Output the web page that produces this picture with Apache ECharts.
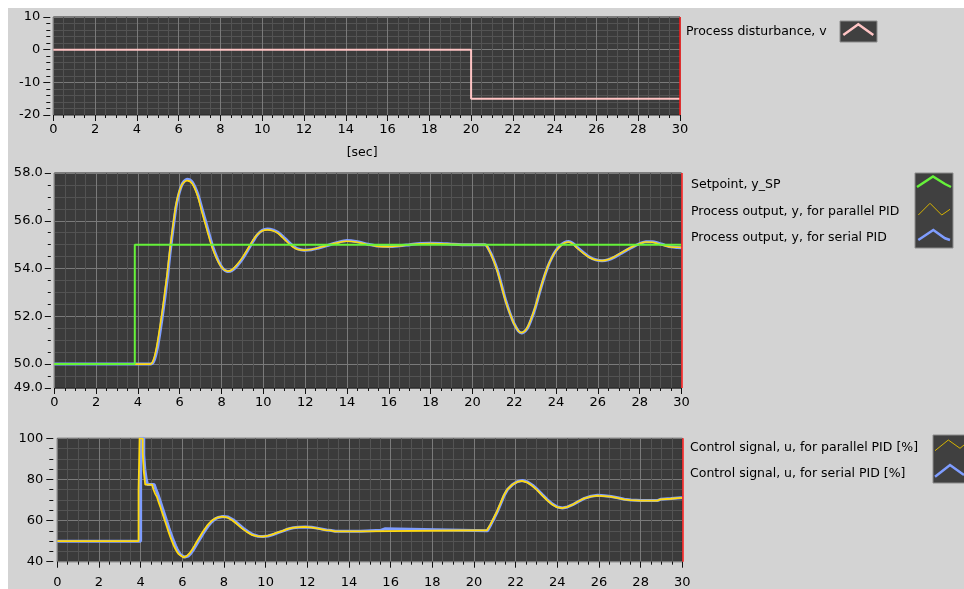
<!DOCTYPE html>
<html>
<head>
<meta charset="utf-8">
<title>PID control: parallel vs serial</title>
<script src="https://cdn.jsdelivr.net/npm/echarts@6/dist/echarts.min.js"></script>
<style>
  html, body { margin: 0; padding: 0; background: #ffffff; }
  #chart { position: absolute; left: 8px; top: 8px; width: 956px; height: 581px; }
</style>
</head>
<body>
<div id="chart"></div>
<script>
// ---- Process disturbance v ----
const distTime = [0, 20, 20, 30];
const distValues = [0, 0, -15, -15];

// ---- Setpoint and process outputs ----
const spTime = [0, 3.85, 3.85, 30];
const spValues = [50, 50, 55, 55];

const yTime = [0, 4.6, 4.75, 4.9, 5.05, 5.2, 5.4, 5.55, 5.7, 5.85, 6.1, 6.35, 6.6, 6.85, 7.05, 7.3, 7.55, 7.8, 8.05, 8.3,
  8.5, 8.75, 9.0, 9.25, 9.5, 9.7, 9.95, 10.2, 10.45, 10.7, 10.9, 11.15, 11.4, 11.65, 11.95, 12.3, 12.6, 13.0, 13.5, 14.0,
  14.5, 15.0, 15.5, 16.0, 16.5, 17.0, 17.5, 18.0, 18.5, 19.0, 19.5, 20.0, 20.6, 20.8, 21.0, 21.2, 21.4, 21.6, 21.8, 22.0,
  22.2, 22.35, 22.6, 22.8, 23.0, 23.2, 23.4, 23.6, 23.8, 24.0, 24.2, 24.4, 24.6, 24.8, 25.0, 25.3, 25.6, 25.9, 26.2, 26.5,
  26.8, 27.1, 27.4, 27.7, 28.0, 28.3, 28.6, 28.9, 29.2, 29.5, 29.8, 30.0];
const yParallel = [50.0, 50.0, 50.2, 50.75, 51.55, 52.45, 53.8, 54.95, 55.95, 56.8, 57.5, 57.68, 57.55, 57.05, 56.4, 55.62, 54.88, 54.35, 54.0, 53.89,
  53.95, 54.18, 54.47, 54.82, 55.18, 55.42, 55.58, 55.62, 55.58, 55.47, 55.31, 55.1, 54.91, 54.8, 54.77, 54.8, 54.86, 54.96, 55.07, 55.14,
  55.1, 55.0, 54.93, 54.92, 54.95, 55.0, 55.04, 55.05, 55.04, 55.02, 55.0, 55.0, 55.0, 54.75, 54.36, 53.87, 53.23, 52.6, 52.1, 51.67,
  51.39, 51.32, 51.49, 51.88, 52.38, 53.0, 53.58, 54.08, 54.46, 54.75, 54.94, 55.07, 55.11, 55.03, 54.86, 54.65, 54.46, 54.36, 54.33, 54.38,
  54.5, 54.65, 54.8, 54.93, 55.04, 55.11, 55.1, 55.03, 54.96, 54.9, 54.89, 54.88];
const ySerial = [50.0, 50.0, 50.1, 50.55, 51.3, 52.2, 53.55, 54.75, 55.8, 56.7, 57.5, 57.74, 57.62, 57.15, 56.55, 55.78, 55.0, 54.42, 54.02, 53.88,
  53.92, 54.12, 54.4, 54.76, 55.13, 55.4, 55.6, 55.66, 55.62, 55.52, 55.37, 55.16, 54.96, 54.82, 54.77, 54.79, 54.85, 54.95, 55.08, 55.17,
  55.12, 55.02, 54.94, 54.92, 54.95, 55.0, 55.05, 55.06, 55.05, 55.02, 55.0, 55.0, 55.0, 54.78, 54.4, 53.92, 53.28, 52.64, 52.12, 51.68,
  51.38, 51.3, 51.46, 51.84, 52.34, 52.96, 53.55, 54.06, 54.46, 54.76, 54.96, 55.09, 55.13, 55.06, 54.9, 54.68, 54.48, 54.37, 54.33, 54.37,
  54.48, 54.63, 54.78, 54.92, 55.04, 55.12, 55.12, 55.06, 54.98, 54.91, 54.88, 54.87];

// ---- Control signal u [%] ----
const uParTime = [0, 3.9, 3.9, 3.95, 3.95, 4.1, 4.1, 4.15, 4.15, 4.22, 4.22, 4.55, 4.62, 4.7, 4.78, 4.86, 4.94, 5.02, 5.1, 5.18,
  5.26, 5.34, 5.42, 5.5, 5.58, 5.66, 5.74, 5.82, 5.9, 6.06, 6.22, 6.34, 6.46, 6.58, 6.7, 6.82, 6.94, 7.06, 7.18, 7.3,
  7.42, 7.54, 7.66, 7.9, 8.14, 8.38, 8.62, 8.86, 9.1, 9.34, 9.58, 9.82, 10.06, 10.3, 10.54, 10.79, 11.03, 11.27, 11.51, 11.83,
  12.15, 12.47, 12.87, 13.1, 13.3, 14.5, 14.55, 20.62, 20.78, 20.94, 21.1, 21.26, 21.42, 21.58, 21.82, 22.06, 22.3, 22.54, 22.78, 23.02,
  23.26, 23.5, 23.74, 23.98, 24.22, 24.46, 24.71, 24.95, 25.27, 25.59, 25.91, 26.23, 26.55, 26.87, 27.19, 27.51, 28.0, 28.8, 28.95, 29.43,
  29.9, 30];
const uParallel = [50, 50, 75, 75, 100, 100, 93, 93, 84, 84, 77.5, 77.5, 75, 73, 71.6, 69, 66.8, 64.3, 61.9, 59.4,
  57.0, 54.5, 52.2, 50.1, 48.1, 46.4, 44.9, 43.7, 42.8, 42.1, 42.8, 44.0, 45.7, 47.7, 49.8, 51.8, 53.8, 55.7, 57.4, 58.8,
  60.0, 60.8, 61.4, 61.9, 61.6, 60.3, 58.3, 56.2, 54.5, 53.0, 52.4, 52.2, 52.5, 53.2, 54.1, 54.9, 55.8, 56.4, 56.7, 56.9,
  56.7, 56.2, 55.4, 55.2, 54.7, 54.7, 55.3, 55.3, 57.9, 61.1, 64.3, 68.1, 72.0, 74.9, 77.3, 78.8, 79.3, 78.6, 77.0, 74.9,
  72.4, 70.0, 67.9, 66.5, 66.0, 66.5, 67.6, 69.0, 70.7, 71.6, 72.1, 71.9, 71.6, 71.0, 70.3, 69.9, 69.7, 69.7, 70.3, 70.6,
  71.0, 71.0];

const uSerTime = [0, 4.0, 4.0, 4.15, 4.15, 4.2, 4.2, 4.27, 4.27, 4.33, 4.33, 4.65, 4.72, 4.8, 4.88, 4.96, 5.04, 5.12, 5.2, 5.28,
  5.36, 5.44, 5.52, 5.6, 5.68, 5.76, 5.84, 5.92, 6.0, 6.12, 6.28, 6.4, 6.52, 6.64, 6.76, 6.88, 7.0, 7.12, 7.24, 7.36,
  7.48, 7.6, 7.72, 7.96, 8.2, 8.44, 8.68, 8.92, 9.16, 9.4, 9.64, 9.88, 10.12, 10.36, 10.6, 10.85, 11.09, 11.33, 11.57, 11.89,
  12.21, 12.53, 12.93, 13.15, 13.35, 14.55, 14.6, 15.55, 15.62, 15.72, 15.8, 20.65, 20.81, 20.97, 21.13, 21.29, 21.45, 21.61, 21.85, 22.09,
  22.33, 22.57, 22.81, 23.05, 23.29, 23.53, 23.77, 24.01, 24.25, 24.49, 24.74, 24.98, 25.3, 25.62, 25.94, 26.26, 26.58, 26.9, 27.22, 27.54,
  28.03, 28.83, 28.98, 29.46, 29.93, 30];
const uSerial = [50, 50, 100, 100, 92, 92, 85, 85, 80, 80, 77.5, 77.5, 75.5, 73.5, 71.2, 68.8, 66.3, 63.8, 61.3, 58.8,
  56.3, 53.9, 51.7, 49.6, 47.7, 46.0, 44.5, 43.4, 42.6, 42.2, 42.7, 43.9, 45.6, 47.6, 49.7, 51.7, 53.7, 55.6, 57.3, 58.8,
  60.0, 60.9, 61.5, 62.0, 61.7, 60.4, 58.4, 56.3, 54.6, 53.1, 52.4, 52.2, 52.5, 53.2, 54.1, 55.0, 55.9, 56.5, 56.8, 56.9,
  56.7, 56.2, 55.4, 55.2, 54.8, 54.8, 55.3, 55.3, 56.0, 56.0, 55.1, 55.1, 58.0, 61.2, 64.5, 68.3, 72.2, 75.1, 77.5, 79.0,
  79.5, 78.8, 77.2, 75.0, 72.5, 70.1, 68.0, 66.6, 66.1, 66.6, 67.7, 69.1, 70.8, 71.8, 72.3, 72.1, 71.7, 71.1, 70.4, 70.0,
  69.8, 69.8, 70.4, 70.7, 71.1, 71.1];

// ---- Axis tick labels ----
const timeTickLabels = [0, 2, 4, 6, 8, 10, 12, 14, 16, 18, 20, 22, 24, 26, 28, 30];
const distTickLabels = [-20, -10, 0, 10];
const yTickLabels = [49, 50, 52, 54, 56, 58];
const uTickLabels = [40, 60, 80, 100];

// ---- Legend entries ----
const topNames = ['Process disturbance, v'];
const midNames = ['Setpoint, y_SP', 'Process output, y, for parallel PID', 'Process output, y, for serial PID'];
const botNames = ['Control signal, u, for parallel PID [%]', 'Control signal, u, for serial PID [%]'];

// ---- Styling ----
const FONT = 'DejaVu Sans';
const FS = 12.5;
const AXFS = 13;
const PLOT_BG = '#3b3b3b';
const MAJOR_GRID = '#7a7a7a';
const MINOR_GRID = '#535353';
const C_PINK = '#ffc4c4';
const C_GREEN = '#66f23a';
const C_YELLOW = '#ffd90f';
const C_BLUE = '#7f9dff';
const C_CURSOR = '#ff1a1a';

const pairs = (ts, vs) => ts.map((t, i) => [t, vs[i]]);

function timeAxis(gridIndex, margin, extra) {
  return Object.assign({
    type: 'value', gridIndex, min: 0, max: 30, interval: 2,
    axisLine: { show: false, onZero: false },
    axisTick: { show: true, length: 6, inside: false, lineStyle: { color: '#111', width: 1 } },
    minorTick: { show: true, splitNumber: 4, length: 3, lineStyle: { color: '#111', width: 1 } },
    axisLabel: {
      color: '#000', fontFamily: FONT, fontSize: AXFS, margin,
      formatter: v => (timeTickLabels.indexOf(v) >= 0 ? String(v) : '')
    },
    splitLine: { show: true, lineStyle: { color: MAJOR_GRID, width: 1 } },
    minorSplitLine: { show: true, lineStyle: { color: MINOR_GRID, width: 1 } }
  }, extra || {});
}

const cursorLine = {
  silent: true, symbol: ['none', 'none'], label: { show: false },
  lineStyle: { color: C_CURSOR, width: 1.5, type: 'solid' },
  emphasis: { disabled: true },
  data: [{ xAxis: 30 }]
};

const legendText = (names, left, top, gap) => ({
  orient: 'vertical', left, top, data: names,
  itemWidth: 0, itemHeight: 0, itemGap: gap, icon: 'rect',
  selectedMode: false,
  textStyle: { color: '#000', fontFamily: FONT, fontSize: FS, lineHeight: 14 }
});

function zigzag(points, color, width) {
  return { type: 'polyline', shape: { points }, style: { stroke: color, lineWidth: width, fill: null }, silent: true };
}
function swatchBox(x, y, w, h) {
  return { type: 'rect', shape: { x, y, width: w, height: h }, style: { fill: '#404040', stroke: '#8c8c8c', lineWidth: 1 }, silent: true };
}

const chart = echarts.init(document.getElementById('chart'), null, { renderer: 'canvas' });

chart.setOption({
  animation: false,
  backgroundColor: '#d3d3d3',
  textStyle: { fontFamily: FONT },
  grid: [
    { left: 45.3, top: 9, width: 626.7, height: 98, show: true, backgroundColor: PLOT_BG, borderColor: '#262626', borderWidth: 1 },
    { left: 46.3, top: 165, width: 627.2, height: 215, show: true, backgroundColor: PLOT_BG, borderColor: '#262626', borderWidth: 1 },
    { left: 49.3, top: 430.3, width: 625, height: 123.4, show: true, backgroundColor: PLOT_BG, borderColor: '#262626', borderWidth: 1 }
  ],
  xAxis: [
    timeAxis(0, 8, {
      name: '[sec]', nameLocation: 'middle', nameGap: 31,
      nameTextStyle: { color: '#000', fontFamily: FONT, fontSize: FS, padding: [0, 9, 0, 0] }
    }),
    timeAxis(1, 8),
    timeAxis(2, 14)
  ],
  yAxis: [
    {
      type: 'value', gridIndex: 0, position: 'left', min: -20, max: 10, interval: 10, offset: 3,
      axisLine: { show: false, onZero: false },
      axisTick: { show: true, length: 7, lineStyle: { color: '#111' } },
      minorTick: { show: true, splitNumber: 5, length: 4, lineStyle: { color: '#111' } },
      axisLabel: { color: '#000', fontFamily: FONT, fontSize: AXFS, margin: 10,
        formatter: v => (distTickLabels.indexOf(v) >= 0 ? String(v) : '') },
      splitLine: { show: true, lineStyle: { color: MAJOR_GRID } },
      minorSplitLine: { show: true, lineStyle: { color: MINOR_GRID } }
    },
    {
      // fine half-unit scale for the process output panel
      type: 'value', gridIndex: 1, position: 'left', min: 49, max: 58, interval: 0.5, offset: 3.5,
      axisLine: { show: false, onZero: false },
      axisTick: { show: true, length: 3, lineStyle: { color: '#111' } },
      axisLabel: { color: '#000', fontFamily: FONT, fontSize: AXFS, margin: 8,
        formatter: v => (yTickLabels.indexOf(v) >= 0 ? v.toFixed(1) : '') },
      splitLine: { show: true, lineStyle: { color: [MINOR_GRID, MINOR_GRID, MAJOR_GRID, MINOR_GRID] } }
    },
    {
      // labelled ticks for the process output panel
      type: 'value', gridIndex: 1, position: 'left', min: 49, max: 58, offset: 3.5,
      axisLine: { show: false, onZero: false },
      axisTick: { show: true, length: 6, lineStyle: { color: '#111' }, customValues: yTickLabels },
      axisLabel: { show: false },
      splitLine: { show: false }
    },
    {
      type: 'value', gridIndex: 2, position: 'left', min: 40, max: 100, interval: 20, offset: 4,
      axisLine: { show: false, onZero: false },
      axisTick: { show: true, length: 7, lineStyle: { color: '#111' } },
      minorTick: { show: true, splitNumber: 4, length: 4, lineStyle: { color: '#111' } },
      axisLabel: { color: '#000', fontFamily: FONT, fontSize: AXFS, margin: 10,
        formatter: v => (uTickLabels.indexOf(v) >= 0 ? String(v) : '') },
      splitLine: { show: true, lineStyle: { color: MAJOR_GRID } },
      minorSplitLine: { show: true, lineStyle: { color: MINOR_GRID } }
    }
  ],
  legend: [
    legendText(topNames, 668, 12, 12),
    legendText(midNames, 673, 165, 12.4),
    legendText(botNames, 672, 428, 12)
  ],
  series: [
    {
      name: topNames[0], type: 'line', xAxisIndex: 0, yAxisIndex: 0,
      data: pairs(distTime, distValues), showSymbol: false,
      lineStyle: { color: C_PINK, width: 2 }, itemStyle: { color: C_PINK },
      markLine: cursorLine
    },
    {
      name: midNames[2], type: 'line', xAxisIndex: 1, yAxisIndex: 1,
      data: pairs(yTime, ySerial), showSymbol: false, smooth: 0.3,
      lineStyle: { color: C_BLUE, width: 3 }, itemStyle: { color: C_BLUE },
      markLine: cursorLine
    },
    {
      name: midNames[1], type: 'line', xAxisIndex: 1, yAxisIndex: 1,
      data: pairs(yTime, yParallel), showSymbol: false, smooth: 0.3,
      lineStyle: { color: C_YELLOW, width: 1.6 }, itemStyle: { color: C_YELLOW }
    },
    {
      name: midNames[0], type: 'line', xAxisIndex: 1, yAxisIndex: 1,
      data: pairs(spTime, spValues), showSymbol: false,
      lineStyle: { color: C_GREEN, width: 2 }, itemStyle: { color: C_GREEN }
    },
    {
      name: botNames[1], type: 'line', xAxisIndex: 2, yAxisIndex: 3,
      data: pairs(uSerTime, uSerial), showSymbol: false,
      lineStyle: { color: C_BLUE, width: 3 }, itemStyle: { color: C_BLUE },
      markLine: cursorLine
    },
    {
      name: botNames[0], type: 'line', xAxisIndex: 2, yAxisIndex: 3,
      data: pairs(uParTime, uParallel), showSymbol: false,
      lineStyle: { color: C_YELLOW, width: 1.8 }, itemStyle: { color: C_YELLOW }
    }
  ],
  graphic: [
    swatchBox(832, 13, 37, 21),
    zigzag([[835.3, 27], [850.3, 16.3], [865.3, 27]], C_PINK, 2.5),
    swatchBox(907, 165, 38, 75),
    zigzag([[909, 179], [925, 168.5], [937, 176], [943, 179]], C_GREEN, 2.5),
    zigzag([[910.3, 207], [922, 195.3], [933.7, 207], [942, 201.3]], '#d7b400', 1),
    zigzag([[910.3, 232], [925.3, 222], [937, 230.3], [942, 232]], C_BLUE, 2.5),
    swatchBox(925, 427, 40, 48),
    zigzag([[927, 442.7], [940.3, 432], [952, 440.3], [956, 437]], '#d7b400', 1),
    zigzag([[927, 468.7], [942, 457], [956, 467]], C_BLUE, 2.5)
  ]
});
</script>
</body>
</html>
